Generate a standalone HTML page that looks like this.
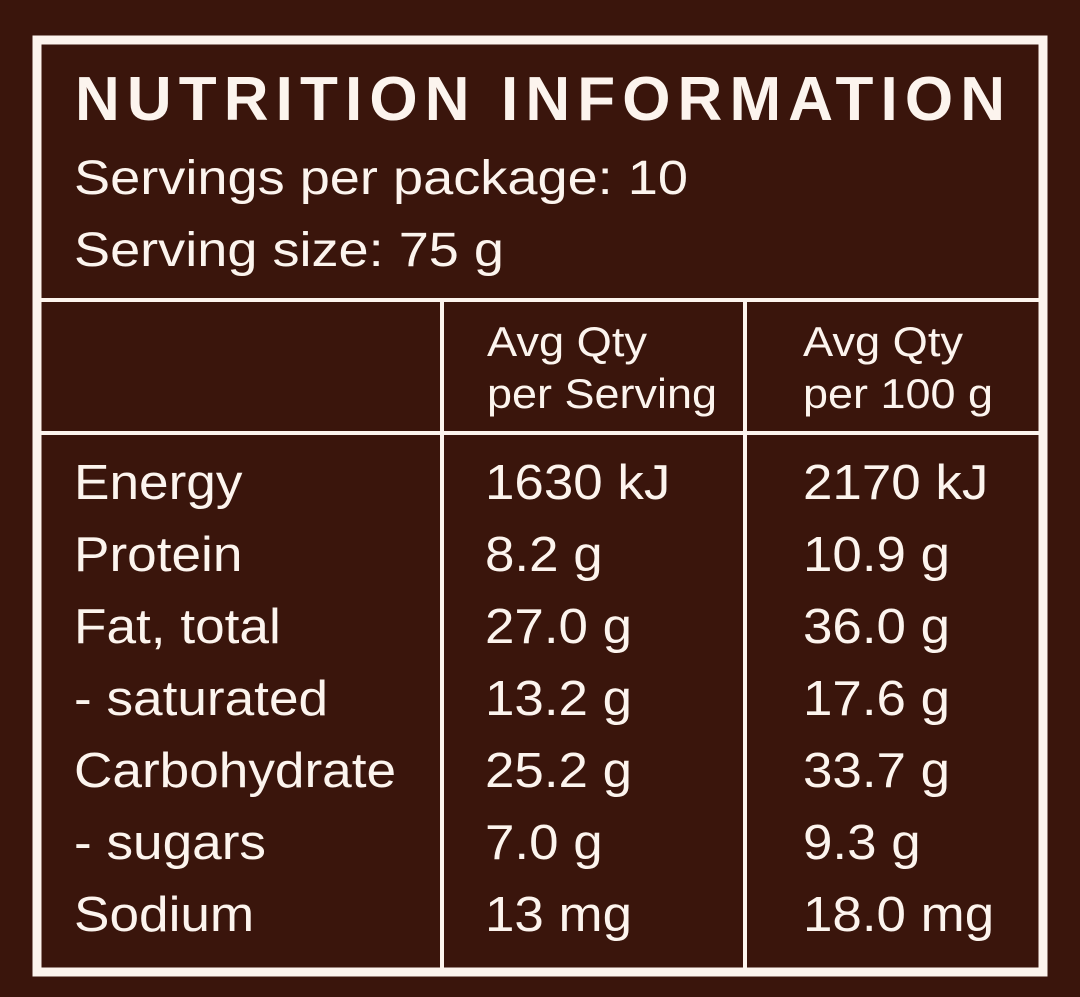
<!DOCTYPE html>
<html><head><style>html,body{margin:0;padding:0;background:#3a150c;}svg{display:block}</style></head>
<body>
<svg width="1080" height="997" viewBox="0 0 1080 997" xmlns="http://www.w3.org/2000/svg" font-family="Liberation Sans, Arial, sans-serif" fill="#fcf4ee">
<rect width="1080" height="997" fill="#3a150c"/>
<rect x="37" y="40" width="1006" height="932" fill="none" stroke="#fcf4ee" stroke-width="9"/>
<rect x="38" y="298" width="1004" height="4" fill="#fcf4ee"/>
<rect x="38" y="431" width="1004" height="4" fill="#fcf4ee"/>
<rect x="440" y="300" width="4" height="670" fill="#fcf4ee"/>
<rect x="743" y="300" width="4" height="670" fill="#fcf4ee"/>
<text x="75" y="120" font-size="62" font-weight="bold" textLength="930" lengthAdjust="spacing">NUTRITION INFORMATION</text>
<text x="74" y="194" font-size="48" textLength="614" lengthAdjust="spacingAndGlyphs">Servings per package: 10</text>
<text x="74" y="266" font-size="48" textLength="430" lengthAdjust="spacingAndGlyphs">Serving size: 75 g</text>
<g font-size="42">
<text x="487" y="356" textLength="160" lengthAdjust="spacingAndGlyphs">Avg Qty</text>
<text x="487" y="408" textLength="230" lengthAdjust="spacingAndGlyphs">per Serving</text>
<text x="803" y="356" textLength="160" lengthAdjust="spacingAndGlyphs">Avg Qty</text>
<text x="803" y="408" textLength="190" lengthAdjust="spacingAndGlyphs">per 100 g</text>
</g>
<g font-size="49" transform="translate(74,0) scale(1.085,1)">
<text x="0" y="499">Energy</text><text x="0" y="571">Protein</text><text x="0" y="643">Fat, total</text><text x="0" y="715">- saturated</text><text x="0" y="787">Carbohydrate</text><text x="0" y="859">- sugars</text><text x="0" y="931">Sodium</text>
</g>
<g font-size="49" transform="translate(485,0) scale(1.08,1)">
<text x="0" y="499">1630 kJ</text><text x="0" y="571">8.2 g</text><text x="0" y="643">27.0 g</text><text x="0" y="715">13.2 g</text><text x="0" y="787">25.2 g</text><text x="0" y="859">7.0 g</text><text x="0" y="931">13 mg</text>
</g>
<g font-size="49" transform="translate(803,0) scale(1.08,1)">
<text x="0" y="499">2170 kJ</text><text x="0" y="571">10.9 g</text><text x="0" y="643">36.0 g</text><text x="0" y="715">17.6 g</text><text x="0" y="787">33.7 g</text><text x="0" y="859">9.3 g</text><text x="0" y="931">18.0 mg</text>
</g>
</svg>
</body></html>
